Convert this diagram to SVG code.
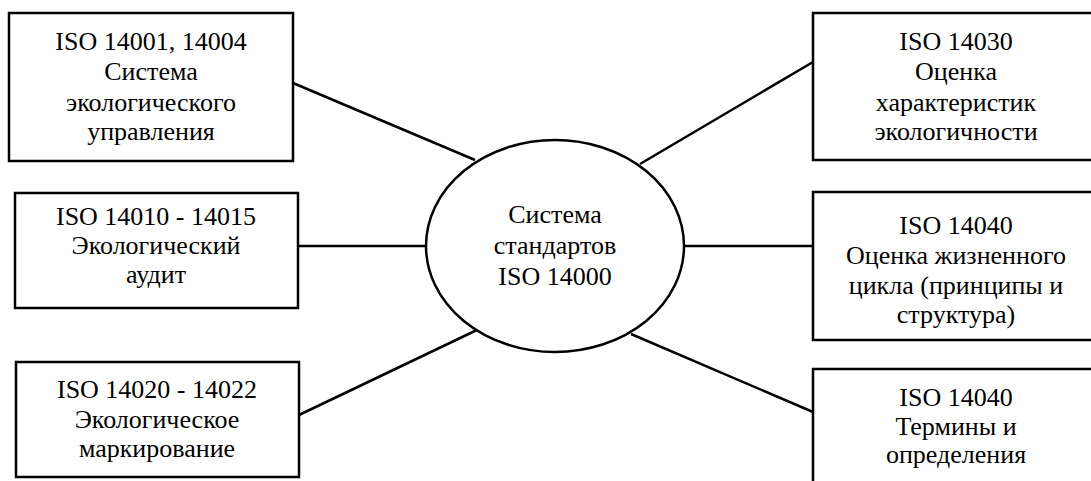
<svg xmlns="http://www.w3.org/2000/svg" width="1091" height="481" viewBox="0 0 1091 481">
<style>
.box{fill:#fff;stroke:#000;stroke-width:2.5}
.conn line{stroke:#000;stroke-width:2.5}
.t{font-family:'Liberation Serif','Tinos','Times New Roman','DejaVu Serif',serif;font-size:26px;fill:#000;text-anchor:middle}
</style>
<rect width="1091" height="481" fill="#fff"/>
<g class="conn" id="connectors">
<line x1="293" y1="83" x2="475" y2="160"/>
<line x1="298" y1="246" x2="426" y2="246"/>
<line x1="299" y1="415" x2="479" y2="329"/>
<line x1="640" y1="164" x2="813" y2="62"/>
<line x1="684" y1="246" x2="813" y2="246"/>
<line x1="631" y1="334" x2="813" y2="412"/>
</g>
<g id="center" class="t" font-family="Liberation Serif, DejaVu Serif, serif">
<ellipse cx="555" cy="246" rx="129" ry="106" fill="#fff" stroke="#000" stroke-width="2.5"/>
<text x="555" y="223">Система</text>
<text x="555" y="254">стандартов</text>
<text x="555" y="285">ISO 14000</text>
</g>
<g id="n1" class="t">
<rect class="box" x="9" y="13" width="284" height="148"/>
<text x="151" y="50">ISO 14001, 14004</text>
<text x="151" y="80">Система</text>
<text x="151" y="111">экологического</text>
<text x="151" y="140">управления</text>
</g>
<g id="n2" class="t">
<rect class="box" x="15" y="193" width="283" height="115"/>
<text x="156" y="225">ISO 14010 - 14015</text>
<text x="156" y="254">Экологический</text>
<text x="156" y="283">аудит</text>
</g>
<g id="n3" class="t">
<rect class="box" x="16" y="362" width="283" height="115"/>
<text x="157" y="398">ISO 14020 - 14022</text>
<text x="157" y="428">Экологическое</text>
<text x="157" y="457">маркирование</text>
</g>
<g id="n4" class="t">
<rect class="box" x="813" y="13" width="286" height="147"/>
<text x="956" y="50">ISO 14030</text>
<text x="956" y="80">Оценка</text>
<text x="956" y="111">характеристик</text>
<text x="956" y="140">экологичности</text>
</g>
<g id="n5" class="t">
<rect class="box" x="813" y="192" width="286" height="148"/>
<text x="956" y="234">ISO 14040</text>
<text x="956" y="264">Оценка жизненного</text>
<text x="956" y="294">цикла (принципы и</text>
<text x="956" y="323">структура)</text>
</g>
<g id="n6" class="t">
<rect class="box" x="813" y="369" width="286" height="130"/>
<text x="956" y="406">ISO 14040</text>
<text x="956" y="435">Термины и</text>
<text x="956" y="463">определения</text>
</g>
</svg>
